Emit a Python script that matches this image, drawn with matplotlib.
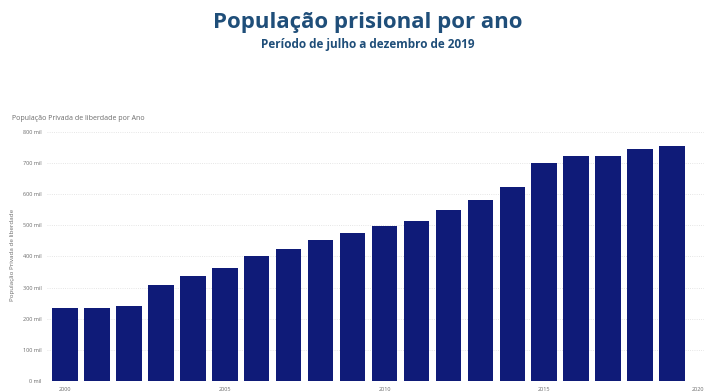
import matplotlib.pyplot as plt
from matplotlib.ticker import FuncFormatter

# Dados: população privada de liberdade por ano
anos = list(range(2000, 2020))
populacao = [232755, 233859, 239345, 308304, 336358, 361402, 401236, 422590,
             451429, 473626, 496251, 514582, 549786, 581507, 622202, 698618,
             722120, 722716, 744216, 755274]
y_ticks = [0, 100000, 200000, 300000, 400000, 500000, 600000, 700000, 800000]
x_ticks = [2000, 2005, 2010, 2015, 2020]

titulo = 'População prisional por ano'
subtitulo = 'Período de julho a dezembro de 2019'
titulo_grafico = 'População Privada de liberdade por Ano'
rotulo_y = 'População Privada de liberdade'

azul_titulo = '#1f4e79'
azul_barra = '#0f1b78'
cinza = '#6b6b6b'

plt.rcParams['font.family'] = ['Open Sans', 'DejaVu Sans']

fig = plt.figure(figsize=(7.04, 3.91), dpi=100)
fig.text(0.523, 0.942, titulo, ha='center', va='center', fontsize=16,
         fontweight='bold', color=azul_titulo)
fig.text(0.523, 0.885, subtitulo, ha='center', va='center', fontsize=8.5,
         fontweight='bold', color=azul_titulo)

# 2000 -> x=65 px, 2020 -> x=704 px
px_ano = (704 - 65) / 20
x0 = 1999.45
x1 = 2020.0
esq = 65 - (2000 - x0) * px_ano
ax = fig.add_axes([esq / 704, 1 - 381 / 391, (x1 - x0) * px_ano / 704,
                   (381 - 128) / 391])
ax.bar(anos, populacao, width=0.8, color=azul_barra, zorder=2)

ax.set_xlim(x0, x1)
ax.set_ylim(0, 812000)
ax.set_yticks(y_ticks)
ax.yaxis.set_major_formatter(FuncFormatter(lambda v, p: f'{int(v / 1000)} mil'))
ax.set_xticks(x_ticks)
ax.tick_params(axis='both', length=0, labelsize=4, colors=cinza, pad=4)
ax.get_xticklabels()[-1].set_horizontalalignment('right')
ax.grid(axis='y', linestyle=':', color='#dddddd', linewidth=0.6, zorder=0)
for s in ax.spines.values():
    s.set_visible(False)

ax.set_ylabel(rotulo_y, fontsize=4.5, color=cinza, labelpad=6)
fig.text(12 / 704, 1 - 118 / 391, titulo_grafico, ha='left', va='center',
         fontsize=5, color=cinza)

fig.savefig('out.png', dpi=100)
